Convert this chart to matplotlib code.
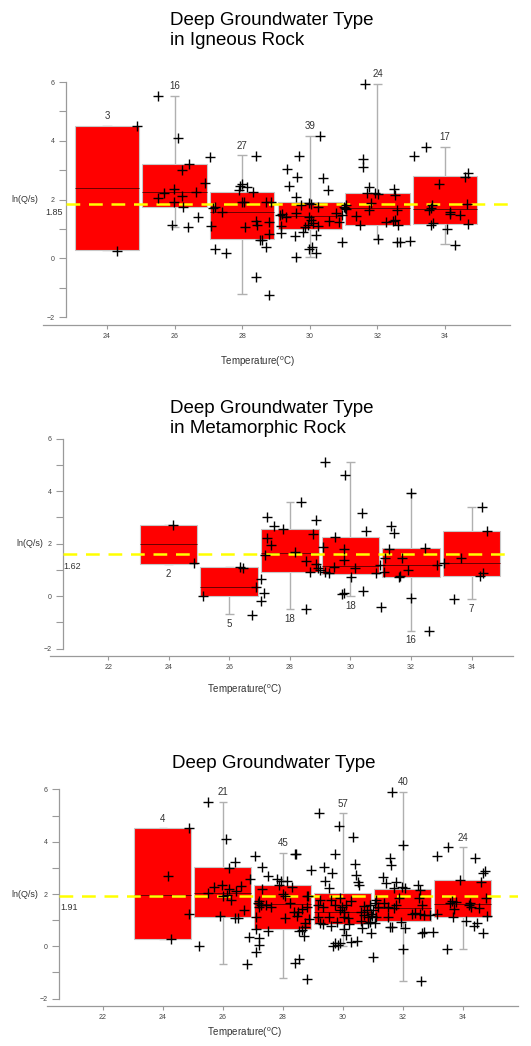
import numpy as np
import matplotlib.pyplot as plt

plt.rcParams['font.family'] = ['Liberation Sans', 'DejaVu Sans']
plt.rcParams['mathtext.fontset'] = 'custom'
plt.rcParams['mathtext.rm'] = 'Liberation Sans'

# ---- bin summaries ----
centers = [24, 26, 28, 30, 32, 34]

ign_q1 = [0.28, 1.76, 0.65, 1.00, 1.13, 1.17]
ign_med = [2.39, 2.27, 1.57, 1.44, 1.70, 1.67]
ign_q3 = [4.52, 3.20, 2.27, 1.90, 2.24, 2.81]
ign_lo = [0.28, 1.08, -1.23, 0.06, 0.65, 0.49]
ign_hi = [4.52, 5.53, 3.50, 4.17, 5.93, 3.78]
ign_n = [3, 16, 27, 39, 24, 17]
ign_mean = 1.85

met_q1 = [1.23, 0.02, 0.93, 0.84, 0.72, 0.78]
met_med = [1.97, 0.36, 1.63, 1.16, 1.19, 1.25]
met_q3 = [2.70, 1.12, 2.56, 2.24, 1.82, 2.50]
met_lo = [1.23, -0.68, -0.49, 0.01, -1.31, -0.11]
met_hi = [2.70, 1.12, 3.60, 5.10, 3.92, 3.41]
met_n = [2, 5, 18, 18, 16, 7]
met_mean = 1.62

all_q1 = [0.28, 1.11, 0.65, 0.85, 0.98, 1.13]
all_med = [1.95, 2.05, 1.62, 1.32, 1.45, 1.61]
all_q3 = [4.51, 3.02, 2.34, 2.05, 2.19, 2.53]
all_lo = [0.28, -0.68, -1.22, 0.01, -1.31, -0.10]
all_hi = [4.51, 5.53, 3.58, 5.08, 5.92, 3.78]
all_n = [4, 21, 45, 57, 40, 24]
all_mean = 1.91

# ---- individual wells: temperature and ln(Q/s) ----
ign_t = [24.31, 24.89,
         25.50, 26.11, 27.05, 26.44, 26.21, 26.90, 26.63, 25.70, 25.99, 25.52, 26.21, 25.98, 26.26, 26.70, 25.92, 26.41,
         27.09, 27.14, 27.21, 27.39, 27.19, 27.51, 27.91, 27.95, 27.98, 28.13, 27.98, 28.05, 28.07, 28.32, 28.40, 28.40,
         28.44, 28.54, 28.59, 28.69, 28.79, 28.79, 28.70, 28.84, 28.40, 28.79,
         29.32, 29.68, 29.62, 29.38, 29.60, 30.29, 30.38, 30.53, 29.13, 29.19, 29.16, 29.16, 29.58, 29.75, 29.99, 30.04,
         30.24, 29.99, 30.04, 29.94, 30.09, 30.24, 29.85, 29.80, 29.55, 30.18, 29.99, 30.07, 30.17, 29.58, 30.56, 30.78,
         30.87, 30.96, 31.01, 31.06, 30.95, 29.30,
         31.63, 31.56, 31.58, 31.76, 31.68, 31.94, 32.01, 31.81, 31.74, 31.37, 31.48, 32.01, 32.26, 32.45, 32.49, 32.51,
         32.58, 32.61, 32.58, 32.66, 32.96, 31.05, 31.07, 32.51,
         33.07, 33.45, 33.82, 33.58, 33.61, 33.58, 33.63, 34.05, 34.16, 34.43, 34.60, 34.68, 34.66, 34.68, 34.29, 34.14,
         33.52]
ign_v = [0.26, 4.51,
         5.53, 4.09, 3.44, 3.20, 3.01, 2.55, 2.27, 2.24, 2.35, 2.05, 2.13, 1.90, 1.76, 1.40, 1.14, 1.08,
         1.10, 1.70, 1.76, 1.56, 0.31, 0.19, 2.33, 2.47, 2.52, 2.42, 1.93, 1.90, 1.08, 2.27, 3.49, 1.28,
         1.14, 0.63, 0.63, 0.38, 1.25, 0.83, 1.93, 1.93, -0.65, -1.25,
         3.05, 3.49, 2.76, 2.47, 2.08, 4.17, 2.73, 2.31, 1.48, 1.51, 1.10, 0.85, 1.53, 1.82, 1.88, 1.85,
         1.76, 1.42, 1.31, 1.14, 1.19, 1.10, 1.08, 0.91, 0.76, 0.80, 0.31, 0.38, 0.17, 0.03, 1.28, 1.53,
         1.24, 1.48, 1.76, 1.67, 0.54, 1.42,
         5.93, 3.38, 3.10, 2.44, 2.22, 2.22, 2.19, 1.88, 1.65, 1.44, 1.14, 0.65, 1.24, 1.26, 2.35, 2.15,
         1.63, 1.14, 0.57, 0.57, 0.59, 1.70, 1.82, 1.31,
         3.47, 3.78, 2.53, 1.70, 1.82, 1.14, 1.19, 0.99, 1.59, 1.48, 2.78, 2.90, 1.85, 1.17, 0.45, 1.51,
         1.65]

met_t = [24.13, 24.85,
         25.14, 26.35, 26.45, 26.87, 26.76,
         27.06, 27.15, 27.06, 27.26, 27.26, 27.39, 27.48, 27.17, 27.76, 28.36, 28.87, 28.78, 28.18, 28.52, 28.67,
         28.87, 28.92, 28.54,
         29.17, 29.82, 30.37, 30.50, 29.49, 29.09, 29.80, 29.80, 28.98, 29.17, 29.30, 29.45, 30.15, 30.01, 30.83,
         30.41, 29.71, 29.80,
         31.99, 31.34, 31.45, 31.28, 32.46, 31.72, 31.15, 30.99, 31.10, 31.59, 31.65, 31.89, 32.86, 31.99, 32.59,
         31.00,
         34.36, 34.50, 33.65, 33.09, 33.41, 34.28, 34.39]
met_v = [2.70, 1.25,
         0.02, 1.12, 1.06, 0.36, -0.72,
         0.64, 0.11, -0.18, 3.03, 2.20, 1.95, 2.67, 1.57, 2.55, 3.60, 2.90, 2.37, 1.70, 1.34, 0.93,
         1.21, 1.06, -0.49,
         5.10, 4.62, 3.16, 2.48, 2.27, 1.86, 1.80, 1.38, 1.00, 0.93, 0.87, 1.12, 1.06, 0.74, 0.87,
         0.21, 0.07, 0.11,
         3.92, 2.67, 2.42, 1.78, 1.82, 1.44, 1.44, 1.19, 0.93, 0.74, 0.76, 1.00, 1.19, -0.08, -1.31,
         -0.40,
         3.41, 2.50, 1.44, 1.25, -0.11, 0.77, 0.87]

all_t = [24.88, 24.18, 24.88, 24.27,
         25.20, 25.51, 25.49, 25.69, 26.09, 26.41, 26.20, 25.98, 26.22, 26.62, 26.00, 26.27, 25.89, 26.41, 26.49,
         26.71, 26.89, 26.80, 26.88, 26.45, 26.15,
         27.07, 27.32, 27.50, 27.81, 27.95, 28.14, 27.88, 27.32, 27.21, 27.17, 27.26, 27.45, 27.19, 27.10, 27.10,
         27.21, 27.21, 27.10, 27.50, 28.06, 28.01, 28.06, 28.25, 28.32, 28.39, 28.44, 28.47, 28.52, 28.63, 28.74,
         28.74, 28.55, 28.63, 28.72, 28.79, 28.79, 28.85, 28.94, 28.41, 28.55, 28.82, 28.87, 28.36, 27.62,
         29.21, 29.86, 30.33, 29.73, 29.36, 29.64, 29.40, 29.53, 29.59, 30.41, 30.44, 30.52, 30.55, 29.18, 29.23,
         29.16, 29.23, 29.34, 29.53, 29.59, 29.81, 29.89, 29.99, 30.05, 30.05, 30.10, 30.16, 30.22, 30.03, 30.11,
         29.92, 29.74, 29.66, 29.84, 30.27, 30.49, 30.27, 30.60, 29.34, 29.73, 29.89,
         30.72, 30.85, 30.85, 30.60, 30.90, 30.95, 30.70, 30.80, 30.65, 30.92,
         31.64, 32.00, 31.58, 31.61, 31.33, 31.44, 31.78, 31.69, 31.98, 32.06, 31.87, 31.76, 31.72, 31.50, 31.52,
         31.36, 31.09, 31.06, 31.17, 31.02, 30.98, 31.11, 31.06, 30.94, 31.02, 31.58, 31.64, 31.94, 32.08, 32.00,
         32.31, 32.51, 32.56, 32.53, 32.63, 32.58, 32.72, 32.64, 32.72, 32.61, 32.89, 33.00, 32.42,
         33.13, 33.52, 34.42, 33.89, 34.59, 34.67, 34.74, 33.13, 33.56, 33.63, 33.70, 33.66, 34.24, 34.28, 34.53,
         34.78, 34.81, 34.11, 34.36, 34.47, 34.67, 33.47, 34.20, 33.76]
all_v = [4.51, 2.69, 1.24, 0.28,
         0.03, 5.53, 2.03, 2.28, 4.10, 3.24, 3.01, 2.34, 2.18, 2.31, 1.92, 1.77, 1.17, 1.07, 1.07,
         1.39, 2.57, -0.68, 0.37, 2.12, 1.95,
         3.45, 3.04, 2.69, 2.56, 2.50, 2.51, 2.34, 2.19, 1.73, 1.64, 1.58, 1.58, 1.49, 1.13, 0.65,
         0.33, 0.05, -0.20, 0.60, 1.92, 2.00, 1.10, 1.67, 2.28, 3.53, 3.52, 1.16, 1.32, 1.41, 0.88,
         0.75, 0.59, 0.62, 0.41, 1.52, 1.92, 1.92, 2.92, -0.62, -0.50, -1.25, 1.03, 1.32, 1.52,
         5.08, 4.60, 4.19, 3.53, 3.04, 2.79, 2.51, 2.22, 1.77, 3.15, 2.73, 2.47, 2.34, 1.58, 1.77,
         1.13, 0.88, 0.85, 1.13, 0.78, 0.94, 1.39, 1.49, 1.32, 1.13, 1.58, 1.07, 0.85, 0.65, 0.43,
         0.11, 0.11, 0.01, 0.05, 0.18, 0.22, 1.75, 1.32, 1.51, 1.58, 1.83,
         1.54, 0.88, 1.13, 0.97, 1.57, 1.25, 1.20, 1.40, 0.70, 0.94,
         5.92, 3.87, 3.36, 3.11, 2.66, 2.41, 2.47, 2.22, 2.25, 2.22, 1.86, 1.58, 1.45, 1.52, 1.13,
         1.67, 1.77, 1.64, 1.52, 1.39, 1.17, 1.13, 0.88, 0.52, -0.40, 0.75, 0.75, 0.94, 0.69, -0.10,
         1.24, 2.34, 2.15, 1.83, 1.58, 1.24, 1.20, 0.52, 0.53, -1.31, 1.20, 0.56, 1.26,
         3.47, 3.78, 3.39, 2.53, 2.47, 2.82, 2.88, 1.24, 1.67, 1.75, 1.41, 1.13, 1.67, 1.52, 1.45,
         1.83, 1.17, 0.98, 0.79, 0.88, 0.50, -0.10, 1.58, 1.71]

W, H = 531, 1046
fig = plt.figure(figsize=(W / 100, H / 100), dpi=100)

AXIS_GREY = '#9a9a9a'
TEXT_GREY = '#333333'


def add_px_axes(x0, y0, x1, y1):
    return fig.add_axes([x0 / W, 1 - y1 / H, (x1 - x0) / W, (y1 - y0) / H])


def draw_panel(ax, t, v, q1, med, q3, lo, hi, n, mean, xlim, ylim, spine_x,
               xticks, mean_lab_xy, ylab_x, counts_below=False):
    c = np.array(centers, dtype=float)
    q1, q3 = np.array(q1), np.array(q3)
    ax.set_xlim(*xlim)
    ax.set_ylim(*ylim)

    # whiskers + caps
    ax.vlines(c, lo, hi, color='#b0b0b0', lw=1.0, zorder=1)
    ax.hlines(lo, c - 0.14, c + 0.14, color='#b0b0b0', lw=1.0, zorder=1)
    ax.hlines(hi, c - 0.14, c + 0.14, color='#b0b0b0', lw=1.0, zorder=1)
    # boxes
    ax.bar(c, q3 - q1, bottom=q1, width=1.9, color='#ff0000',
           edgecolor='#c8c8c8', linewidth=0.8, zorder=2)
    ax.hlines(med, c - 0.95, c + 0.95, color='#6a0000', lw=0.7, zorder=3)

    # overall mean
    frac = (spine_x - xlim[0]) / (xlim[1] - xlim[0])
    ax.axhline(mean, xmin=frac, xmax=1, color='#ffff00', lw=1.8,
               dashes=(5.5, 3.5), zorder=3)
    ax.text(mean_lab_xy[0], mean_lab_xy[1], f'{mean:.2f}', ha='center',
            va='center', fontsize=6.5, color=TEXT_GREY)

    # wells
    ax.plot(t, v, '+', color='black', ms=7.5, mew=1.0, zorder=4)

    # counts
    for xc, k, a, b in zip(c, n, lo, hi):
        if counts_below:
            ax.annotate(str(k), (xc, a), xytext=(0, -3.5), textcoords='offset points',
                        ha='center', va='top', fontsize=7, color=TEXT_GREY)
        else:
            ax.annotate(str(k), (xc, b), xytext=(0, 3.5), textcoords='offset points',
                        ha='center', va='bottom', fontsize=7, color=TEXT_GREY)

    ax.text(ylab_x, 2, 'ln(Q/s)', ha='right', va='center', fontsize=6.5,
            color=TEXT_GREY)

    for s in ('top', 'right'):
        ax.spines[s].set_visible(False)
    ax.spines['left'].set_position(('data', spine_x))
    ax.spines['left'].set_bounds(-2, 6)
    for s in ('left', 'bottom'):
        ax.spines[s].set_color(AXIS_GREY)
        ax.spines[s].set_linewidth(0.9)

    ax.set_yticks([-2, 0, 2, 4, 6])
    ax.set_yticks([-1, 1, 3, 5], minor=True)
    ax.set_xticks(xticks)
    ax.tick_params(axis='y', which='both', length=5, width=0.8, color=AXIS_GREY,
                   labelsize=5, labelcolor='#444444', pad=3)
    ax.tick_params(axis='x', length=3, width=0.8, color=AXIS_GREY,
                   labelsize=5, labelcolor='#444444', pad=3)
    ax.patch.set_alpha(0)


xlab = r'Temperature($^{\mathrm{o}}$C)'
title_kw = dict(ha='left', va='top', fontsize=13.5, color='black',
                multialignment='left', linespacing=1.2)

# panel 1: igneous
ax1 = add_px_axes(43, 70, 510, 325)
draw_panel(ax1, ign_t, ign_v, ign_q1, ign_med, ign_q3, ign_lo, ign_hi, ign_n, ign_mean,
           xlim=(22.11, 35.92), ylim=(-2.27, 6.41), spine_x=22.79,
           xticks=[24, 26, 28, 30, 32, 34], mean_lab_xy=(22.44, 1.57), ylab_x=21.96)
fig.text(170 / W, 1 - 12 / H, 'Deep Groundwater Type\nin Igneous Rock', **title_kw)
fig.text(257 / W, 1 - 362 / H, xlab, ha='center', va='center', fontsize=7, color=TEXT_GREY)

# panel 2: metamorphic
ax2 = add_px_axes(50, 430, 513, 655.7)
draw_panel(ax2, met_t, met_v, met_q1, met_med, met_q3, met_lo, met_hi, met_n, met_mean,
           xlim=(20.08, 35.37), ylim=(-2.27, 6.33), spine_x=20.51,
           xticks=[22, 24, 26, 28, 30, 32, 34], mean_lab_xy=(20.81, 1.12), ylab_x=19.85,
           counts_below=True)
fig.text(170 / W, 1 - 400 / H, 'Deep Groundwater Type\nin Metamorphic Rock', **title_kw)
fig.text(244 / W, 1 - 690 / H, xlab, ha='center', va='center', fontsize=7, color=TEXT_GREY)

# panel 3: all
ax3 = add_px_axes(47, 780, 518, 1005.7)
draw_panel(ax3, all_t, all_v, all_q1, all_med, all_q3, all_lo, all_hi, all_n, all_mean,
           xlim=(20.14, 35.84), ylim=(-2.27, 6.36), spine_x=20.54,
           xticks=[22, 24, 26, 28, 30, 32, 34], mean_lab_xy=(20.88, 1.48), ylab_x=19.84)
fig.text(172 / W, 1 - 755 / H, 'Deep Groundwater Type', **title_kw)
fig.text(244 / W, 1 - 1033 / H, xlab, ha='center', va='center', fontsize=7, color=TEXT_GREY)

fig.savefig('out.png', dpi=100)
